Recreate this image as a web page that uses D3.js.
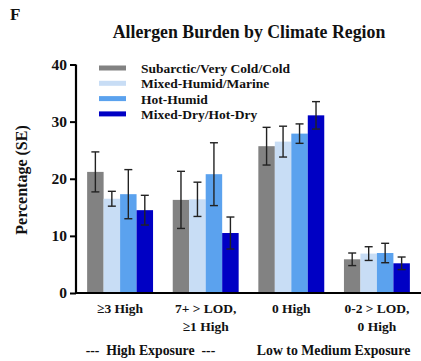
<!DOCTYPE html>
<html>
<head>
<meta charset="utf-8">
<script src="https://cdn.jsdelivr.net/npm/d3@7"></script>
<style>
  html, body { margin: 0; padding: 0; background: #fff; }
  svg { display: block; }
  text { font-family: "Liberation Serif", "Times New Roman", serif; font-weight: bold; fill: #111; }
</style>
</head>
<body>
<svg id="chart" width="421" height="361"></svg>
<script>
// Exposure categories (two-line labels split on "|")
const categories = ["≥3 High", "7+ > LOD,|≥1 High", "0 High", "0-2 > LOD,|0 High"];
const regions = ["Subarctic/Very Cold/Cold", "Mixed-Humid/Marine", "Hot-Humid", "Mixed-Dry/Hot-Dry"];
const regionColors = ["#828282", "#c8ddf5", "#5ba2ee", "#0000c4"];

// Percentage per region, one array per region, in category order
const subarcticValues = [21.2, 16.3, 25.7, 5.9];
const mixedHumidValues = [16.5, 16.4, 26.5, 6.9];
const hotHumidValues = [17.3, 20.8, 27.9, 7.0];
const mixedDryValues = [14.5, 10.5, 31.1, 5.2];
// Standard errors, same layout
const subarcticSE = [3.5, 5.0, 3.3, 1.1];
const mixedHumidSE = [1.3, 3.0, 2.7, 1.2];
const hotHumidSE = [4.3, 5.5, 1.7, 1.7];
const mixedDrySE = [2.6, 2.8, 2.4, 1.1];

const yTicks = [0, 10, 20, 30, 40];
const title = "Allergen Burden by Climate Region";
const panelLetter = "F";
const yLabel = "Percentage (SE)";
const exposureGroups = [
  { label: "---  High Exposure  ---", from: 0 },
  { label: "Low to Medium Exposure", from: 2 }
];

const valuesByRegion = [subarcticValues, mixedHumidValues, hotHumidValues, mixedDryValues];
const seByRegion = [subarcticSE, mixedHumidSE, hotHumidSE, mixedDrySE];

const rows = [];
categories.forEach((c, ci) => {
  regions.forEach((r, ri) => {
    rows.push({ category: c, region: r, value: valuesByRegion[ri][ci], se: seByRegion[ri][ci], ri });
  });
});

const svg = d3.select("#chart");

const x0 = d3.scaleBand().domain(categories).range([76, 421]).paddingInner(0.23).paddingOuter(0.13);
const x1 = d3.scaleBand().domain(regions).range([0, x0.bandwidth()]);
const y = d3.scaleLinear().domain([0, 40]).range([293, 64.5]);
const color = d3.scaleOrdinal().domain(regions).range(regionColors);

// Panel letter and title
svg.append("text").attr("x", 10).attr("y", 20).attr("font-size", 17).text(panelLetter);
svg.append("text").attr("x", 249).attr("y", 38).attr("text-anchor", "middle")
  .attr("font-size", 17.8).text(title);

// Bars
const g = svg.append("g");
g.selectAll("rect.bar").data(rows).join("rect")
  .attr("class", "bar")
  .attr("x", d => x0(d.category) + x1(d.region))
  .attr("y", d => y(d.value))
  .attr("width", x1.bandwidth())
  .attr("height", d => y(0) - y(d.value))
  .attr("fill", d => color(d.region));

// Error bars
const capHalf = 4;
const cx = d => x0(d.category) + x1(d.region) + x1.bandwidth() / 2;
const eb = g.selectAll("g.err").data(rows).join("g").attr("class", "err")
  .attr("stroke", "#222").attr("stroke-width", 1.4);
eb.append("line")
  .attr("x1", cx).attr("x2", cx)
  .attr("y1", d => y(d.value + d.se))
  .attr("y2", d => y(d.value - d.se));
eb.append("line")
  .attr("x1", d => cx(d) - capHalf).attr("x2", d => cx(d) + capHalf)
  .attr("y1", d => y(d.value + d.se)).attr("y2", d => y(d.value + d.se));
eb.append("line")
  .attr("x1", d => cx(d) - capHalf).attr("x2", d => cx(d) + capHalf)
  .attr("y1", d => y(d.value - d.se)).attr("y2", d => y(d.value - d.se));

// Y axis
const yAxis = svg.append("g").attr("transform", "translate(76,0)")
  .call(d3.axisLeft(y).tickValues(yTicks).tickSize(6).tickPadding(3).tickFormat(d3.format("d")));
yAxis.select(".domain").attr("stroke", "#000").attr("stroke-width", 2.2).attr("d", `M0,${y(0)}V${y(40)}`);
yAxis.selectAll(".tick line").attr("stroke", "#000").attr("stroke-width", 2);
yAxis.selectAll(".tick text").attr("font-size", 15.5).attr("font-family", "Liberation Serif, serif")
  .attr("font-weight", "bold").attr("fill", "#111");

// X axis baseline
svg.append("line").attr("x1", 75).attr("x2", 421).attr("y1", y(0)).attr("y2", y(0))
  .attr("stroke", "#000").attr("stroke-width", 2.2);

// Category labels
const catLabels = svg.append("g").selectAll("text").data(categories).join("text")
  .attr("text-anchor", "middle").attr("font-size", 13.5)
  .attr("transform", d => `translate(${x0(d) + x0.bandwidth() / 2},313)`);
catLabels.selectAll("tspan").data(d => d.split("|")).join("tspan")
  .attr("x", 0).attr("dy", (d, i) => i === 0 ? 0 : 17.5).text(d => d);

// Exposure group labels, starting at the first bar of their group
svg.append("g").selectAll("text").data(exposureGroups).join("text")
  .attr("text-anchor", "start").attr("font-size", 13.8).attr("y", 355)
  .attr("x", d => x0(categories[d.from]) - 1.5)
  .attr("xml:space", "preserve")
  .text(d => d.label);

// Y label
svg.append("text").attr("transform", "translate(27,180) rotate(-90)")
  .attr("text-anchor", "middle").attr("font-size", 16).text(yLabel);

// Legend
const legend = svg.append("g").selectAll("g").data(regions).join("g")
  .attr("transform", (d, i) => `translate(99,${68 + i * 15.3})`);
legend.append("rect").attr("x", 0).attr("y", -2.5).attr("width", 27).attr("height", 5)
  .attr("fill", d => color(d));
legend.append("text").attr("x", 42).attr("y", 5).attr("font-size", 13.5).text(d => d);
</script>
</body>
</html>
